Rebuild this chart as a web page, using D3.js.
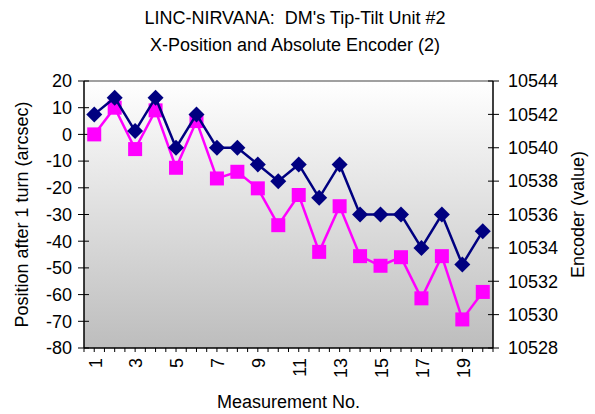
<!DOCTYPE html>
<html>
<head>
<meta charset="utf-8">
<script src="https://cdn.jsdelivr.net/npm/d3@7"></script>
<style>
  html, body { margin: 0; padding: 0; background: #ffffff; }
  svg text { font-family: "Liberation Sans", Arial, sans-serif; fill: #000; white-space: pre; }
</style>
</head>
<body>
<svg id="chart" width="595" height="414"></svg>
<script>
// ---- data ----
const categories = d3.range(1, 21);
const positionArcsec = [0, 10, -5.5, 9, -12.5, 5, -16.5, -14, -20.2, -34,
                        -22.7, -44, -26.9, -45.6, -49.2, -46, -61.4, -45.6, -69.3, -59];
const encoderValue = [10542, 10543, 10541, 10543, 10540, 10542, 10540, 10540, 10539, 10538,
                      10539, 10537, 10539, 10536, 10536, 10536, 10534, 10536, 10533, 10535];
const leftTicks = [20, 10, 0, -10, -20, -30, -40, -50, -60, -70, -80];
const rightTicks = [10544, 10542, 10540, 10538, 10536, 10534, 10532, 10530, 10528];
const xLabels = [1, 3, 5, 7, 9, 11, 13, 15, 17, 19];
const titleLines = ["LINC-NIRVANA:  DM's Tip-Tilt Unit #2", "X-Position and Absolute Encoder (2)"];

// ---- layout ----
const svg = d3.select("#chart");
const L = 84, R = 493, T = 81, B = 348;
const fs = 18;

const x = d3.scaleBand().domain(categories).range([L, R]);
const yL = d3.scaleLinear().domain([-80, 20]).range([B, T]);
const yR = d3.scaleLinear().domain([10528, 10544]).range([B, T]);
const cx = d => x(d) + x.bandwidth() / 2;

// background gradient
const defs = svg.append("defs");
const grad = defs.append("linearGradient").attr("id", "bg")
  .attr("x1", 0).attr("y1", 0).attr("x2", 0).attr("y2", 1);
grad.append("stop").attr("offset", "0%").attr("stop-color", "#ffffff");
grad.append("stop").attr("offset", "100%").attr("stop-color", "#bdbdbd");
svg.append("rect").attr("x", L).attr("y", T).attr("width", R - L).attr("height", B - T)
  .attr("fill", "url(#bg)");

// top border
svg.append("line").attr("x1", L).attr("x2", R).attr("y1", T).attr("y2", T)
  .attr("stroke", "#808080").attr("stroke-width", 1.5);

// titles
svg.selectAll("text.title").data(titleLines).enter().append("text")
  .attr("class", "title")
  .attr("x", 295).attr("y", (d, i) => 24 + i * 27)
  .attr("text-anchor", "middle").attr("font-size", fs).text(d => d);

// left axis
const gL = svg.append("g");
gL.append("line").attr("x1", L).attr("x2", L).attr("y1", T).attr("y2", B)
  .attr("stroke", "#000").attr("stroke-width", 1.5);
gL.selectAll("line.t").data(leftTicks).enter().append("line").attr("class", "t")
  .attr("x1", L - 6).attr("x2", L + 5).attr("y1", d => yL(d)).attr("y2", d => yL(d))
  .attr("stroke", "#000").attr("stroke-width", 1);
gL.selectAll("text").data(leftTicks).enter().append("text")
  .attr("x", L - 12).attr("y", d => yL(d)).attr("dy", "0.35em")
  .attr("text-anchor", "end").attr("font-size", fs).text(d => d);

// right axis
const gR = svg.append("g");
gR.append("line").attr("x1", R).attr("x2", R).attr("y1", T).attr("y2", B)
  .attr("stroke", "#000").attr("stroke-width", 1.5);
gR.selectAll("line.t").data(rightTicks).enter().append("line").attr("class", "t")
  .attr("x1", R - 5).attr("x2", R + 6).attr("y1", d => yR(d)).attr("y2", d => yR(d))
  .attr("stroke", "#000").attr("stroke-width", 1);
gR.selectAll("text").data(rightTicks).enter().append("text")
  .attr("x", R + 15).attr("y", d => yR(d)).attr("dy", "0.35em")
  .attr("text-anchor", "start").attr("font-size", fs).text(d => d);

// bottom axis
const gB = svg.append("g");
gB.append("line").attr("x1", L).attr("x2", R).attr("y1", B).attr("y2", B)
  .attr("stroke", "#000").attr("stroke-width", 1.5);
const halfTicks = d3.range(0, categories.length * 2 + 1).map(i => L + i * x.bandwidth() / 2);
gB.selectAll("line.t").data(halfTicks).enter().append("line").attr("class", "t")
  .attr("x1", d => d).attr("x2", d => d).attr("y1", B).attr("y2", B + 4)
  .attr("stroke", "#000").attr("stroke-width", 1);
gB.selectAll("text").data(xLabels).enter().append("text")
  .attr("transform", d => `translate(${cx(d) + 1},${B + 10}) rotate(-90)`)
  .attr("dy", "0.35em").attr("text-anchor", "end").attr("font-size", fs).text(d => d);

// axis titles
svg.append("text").attr("x", (L + R) / 2).attr("y", 408)
  .attr("text-anchor", "middle").attr("font-size", fs).text("Measurement No.");
svg.append("text").attr("transform", `translate(22,${(T + B) / 2}) rotate(-90)`)
  .attr("dy", "0.35em").attr("text-anchor", "middle").attr("font-size", fs)
  .text("Position after 1 turn (arcsec)");
svg.append("text").attr("transform", `translate(578,${(T + B) / 2}) rotate(-90)`)
  .attr("dy", "0.35em").attr("text-anchor", "middle").attr("font-size", fs)
  .text("Encoder (value)");

// position series (magenta squares, left axis)
const linePos = d3.line().x((d, i) => cx(categories[i])).y(d => yL(d));
svg.append("path").datum(positionArcsec).attr("d", linePos)
  .attr("fill", "none").attr("stroke", "#ff00ff").attr("stroke-width", 2.5);
const sq = 14;
svg.selectAll("rect.pos").data(positionArcsec).enter().append("rect").attr("class", "pos")
  .attr("x", (d, i) => cx(categories[i]) - sq / 2).attr("y", d => yL(d) - sq / 2)
  .attr("width", sq).attr("height", sq).attr("fill", "#ff00ff");

// encoder series (navy diamonds, right axis)
const lineEnc = d3.line().x((d, i) => cx(categories[i])).y(d => yR(d));
svg.append("path").datum(encoderValue).attr("d", lineEnc)
  .attr("fill", "none").attr("stroke", "#000080").attr("stroke-width", 2.5);
const dm = 8;
svg.selectAll("path.enc").data(encoderValue).enter().append("path").attr("class", "enc")
  .attr("d", (d, i) => {
    const px = cx(categories[i]), py = yR(d);
    return `M${px},${py - dm}L${px + dm},${py}L${px},${py + dm}L${px - dm},${py}Z`;
  })
  .attr("fill", "#000080");
</script>
</body>
</html>
